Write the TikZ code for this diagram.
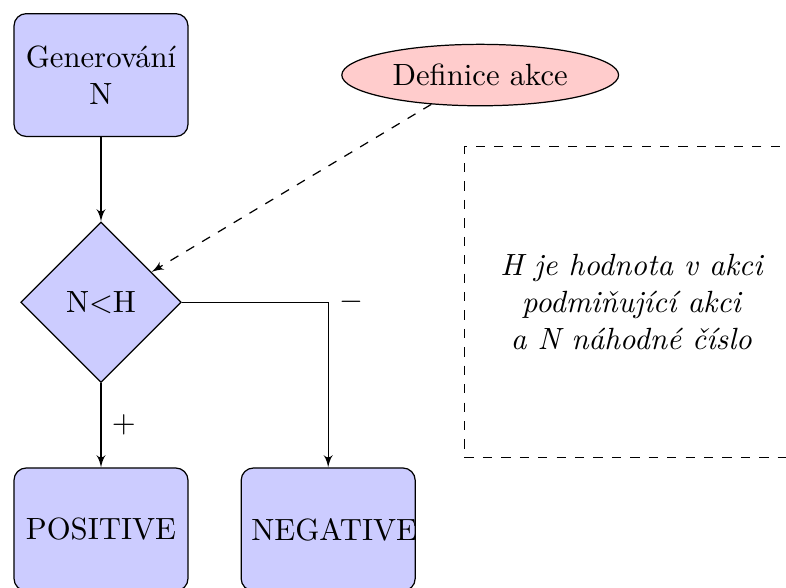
\documentclass[tikz,border=0pt]{standalone}
\usepackage{amsmath,amssymb}
\usepackage{tikz}
\usetikzlibrary{shapes.geometric, arrows}
\tikzstyle{decision} = [diamond, 
draw, 
fill=blue!20, 
text width=4.5em, 
text badly centered, 
inner sep=0pt]
\tikzstyle{block} = [rectangle, 
draw, 
fill=blue!20, 
text width=5em, 
text centered, 
rounded corners, 
minimum height=4em]
\tikzstyle{cloud} = [draw, 
ellipse, 
fill=red!20, 
minimum height=2em]
\tikzstyle{note} = [rectangle, 
draw, 
dashed, 
align=center, 
font=\itshape, 
minimum width=3.82cm, 
minimum height=3.56cm]
\tikzstyle{line} = [draw, -latex']

\begin{document}
\begin{tikzpicture}[node distance=2.6cm]

\useasboundingbox (-1.156,0.859) rectangle (7.84,-5.861);

\node (gen) [block] {Generování N};
\node (decide) [decision, below of=gen] {N<H};
\node (positive) [block, below of=decide] {POSITIVE};
\node (negative) [block, right of=positive] {NEGATIVE};
\node (cloud) [cloud, right of=gen, xshift=1.74cm] {Definice akce};
\node (note) [note, right of=decide, xshift=3.47cm] {H je hodnota v akci\\
podmiňující akci\\
a N náhodné číslo};

\draw [line] (gen) -- (decide);
\draw [line] (decide) -- node[right] {$+$} (positive);
\draw [line] (decide) -| node[right] {$-$} (negative);
\draw [line, dashed] (cloud) -- (decide);

\end{tikzpicture}
\end{document}
